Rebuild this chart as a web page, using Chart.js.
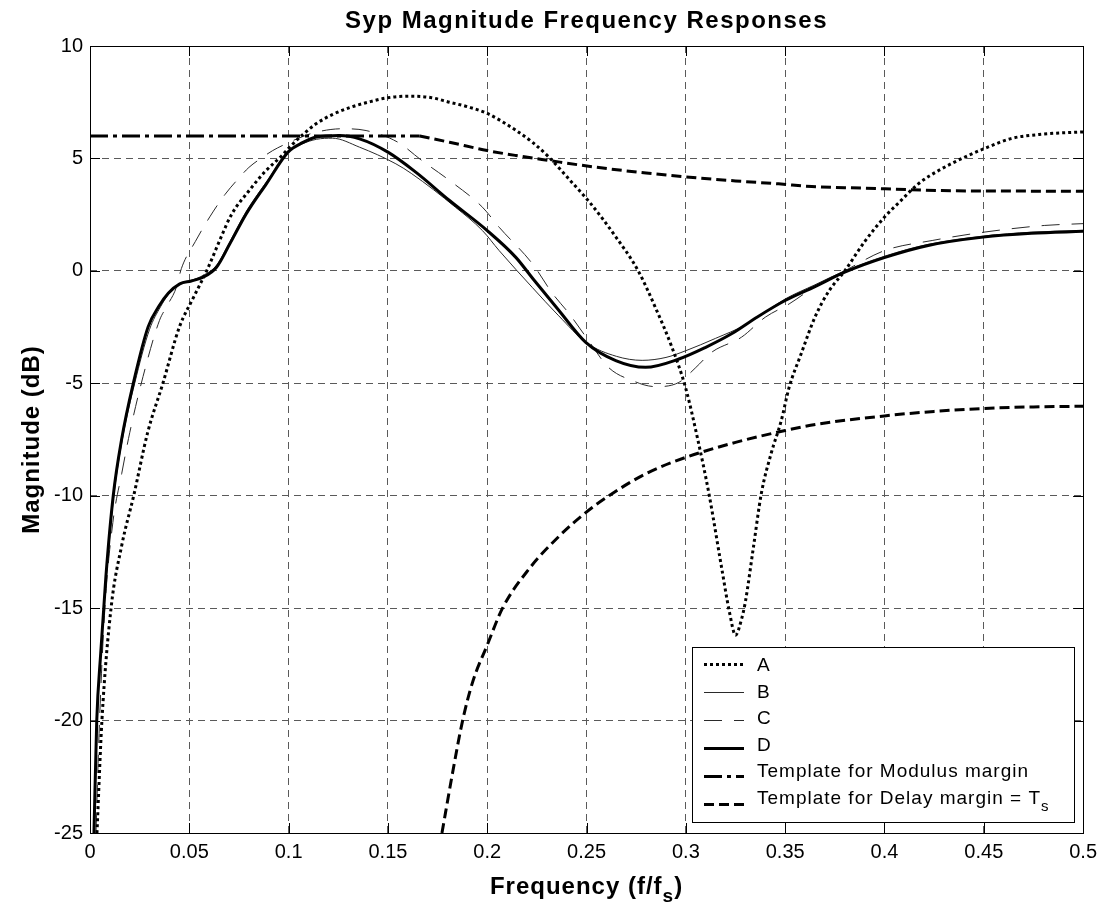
<!DOCTYPE html>
<html>
<head>
<meta charset="utf-8">
<title>Syp Magnitude Frequency Responses</title>
<script src="https://cdn.jsdelivr.net/npm/chart.js@4/dist/chart.umd.min.js"></script>
<style>
  html, body { margin: 0; padding: 0; background: #fff; }
  canvas { display: block; }
</style>
</head>
<body>
<canvas id="sypChart" width="1104" height="905"></canvas>
<script>
// normalised frequency (f/fs) and magnitude (dB) for each response
const freqA = [0.0035, 0.006, 0.0106, 0.016, 0.022, 0.029, 0.0367, 0.045, 0.052, 0.059, 0.066, 0.0712, 0.0804, 0.088, 0.0963, 0.1005, 0.107, 0.114, 0.122, 0.131, 0.14, 0.15, 0.162, 0.172, 0.181, 0.19, 0.2, 0.2146, 0.223, 0.231, 0.243, 0.252, 0.264, 0.276, 0.285, 0.293, 0.2998, 0.306, 0.3116, 0.318, 0.322, 0.325, 0.328, 0.33, 0.334, 0.338, 0.343, 0.348, 0.352, 0.358, 0.365, 0.372, 0.38, 0.39, 0.4, 0.408, 0.417, 0.428, 0.4405, 0.452, 0.464, 0.48, 0.4975, 0.5];
const magA = [-25, -20, -15, -12.2, -10, -7.2, -5, -2.5, -1.2, 0.05, 1.5, 2.5, 3.6, 4.4, 5.1, 5.5, 6.05, 6.55, 6.95, 7.27, 7.5, 7.7, 7.77, 7.7, 7.5, 7.3, 7.0, 6.24, 5.7, 5.06, 3.9, 3.0, 1.6, 0.0, -1.7, -3.4, -5.18, -7.5, -9.9, -13.2, -15.2, -16.2, -15.5, -14.7, -12.3, -9.9, -8.1, -6.67, -5.18, -3.7, -2.06, -0.9, 0.0, 1.3, 2.39, 3.1, 3.87, 4.5, 5.06, 5.5, 5.89, 6.08, 6.17, 6.18];

const freqB = [0.0022, 0.0036, 0.0058, 0.0085, 0.012, 0.0165, 0.0225, 0.03, 0.0355, 0.0395, 0.045, 0.051, 0.057, 0.0637, 0.0704, 0.0787, 0.0888, 0.0997, 0.107, 0.114, 0.122, 0.1357, 0.154, 0.162, 0.184, 0.1976, 0.206, 0.2226, 0.236, 0.25, 0.265, 0.278, 0.29, 0.3, 0.315, 0.33, 0.35, 0.365, 0.38, 0.4, 0.422, 0.45, 0.474, 0.5];
const magB = [-25, -20, -16.5, -13.3, -10, -7.4, -5, -2.6, -1.6, -1.05, -0.6, -0.42, -0.2, 0.25, 1.3, 2.65, 3.95, 5.3, 5.65, 5.85, 5.9, 5.5, 4.76, 4.32, 2.83, 1.79, 0.9, -0.73, -2.0, -3.2, -3.8, -3.98, -3.85, -3.55, -3.0, -2.4, -1.25, -0.62, 0.0, 0.65, 1.18, 1.55, 1.72, 1.8];

const freqC = [0.003, 0.0048, 0.0075, 0.0115, 0.016, 0.02, 0.0267, 0.035, 0.0385, 0.0435, 0.046, 0.053, 0.0603, 0.068, 0.0754, 0.08, 0.086, 0.092, 0.097, 0.105, 0.114, 0.127, 0.139, 0.155, 0.167, 0.181, 0.1976, 0.206, 0.2228, 0.2328, 0.2412, 0.251, 0.261, 0.273, 0.2848, 0.2965, 0.305, 0.313, 0.328, 0.34, 0.352, 0.365, 0.38, 0.4, 0.424, 0.45, 0.4807, 0.5];
const magC = [-25, -20, -15, -11.2, -9.0, -7.2, -4.7, -2.2, -1.6, -0.73, 0.1, 1.3, 2.4, 3.4, 4.17, 4.6, 5.0, 5.35, 5.58, 5.9, 6.17, 6.32, 6.24, 5.72, 4.91, 4.02, 2.83, 1.94, 0.31, -1.0, -1.9, -3.1, -4.29, -4.88, -5.15, -4.96, -4.3, -3.62, -2.95, -2.06, -1.47, -0.7, 0.0, 0.9, 1.35, 1.72, 2.02, 2.1];

const freqD = [0.002, 0.0034, 0.0054, 0.008, 0.0117, 0.0159, 0.0218, 0.0293, 0.0345, 0.0394, 0.0452, 0.051, 0.057, 0.0637, 0.0704, 0.0787, 0.0888, 0.0997, 0.107, 0.114, 0.1255, 0.1357, 0.15, 0.164, 0.181, 0.2, 0.2144, 0.223, 0.236, 0.2496, 0.2647, 0.2797, 0.2965, 0.31, 0.323, 0.336, 0.35, 0.365, 0.38, 0.4003, 0.422, 0.4497, 0.474, 0.5];
const magD = [-25, -20, -17, -13.6, -10, -7.5, -5, -2.48, -1.6, -1.0, -0.58, -0.45, -0.28, 0.16, 1.2, 2.54, 3.87, 5.28, 5.7, 5.95, 6.02, 5.87, 5.28, 4.39, 3.13, 1.79, 0.6, -0.35, -1.75, -3.18, -3.99, -4.29, -3.92, -3.4, -2.8, -2.05, -1.32, -0.7, -0.06, 0.6, 1.13, 1.5, 1.67, 1.76];

// templates
const freqModulus = [0, 0.166];
const magModulus = [6, 6];

const freqDelayHi = [0.166, 0.181, 0.2, 0.2144, 0.231, 0.2546, 0.28, 0.3, 0.325, 0.3467, 0.3634, 0.38, 0.4003, 0.4287, 0.46, 0.5];
const magDelayHi = [6.0, 5.72, 5.35, 5.13, 4.91, 4.61, 4.35, 4.18, 4.0, 3.87, 3.75, 3.7, 3.65, 3.57, 3.55, 3.54];

const freqDelayLo = [0.1772, 0.1826, 0.1876, 0.1926, 0.2002, 0.2077, 0.2211, 0.2362, 0.2496, 0.2613, 0.2797, 0.2998, 0.325, 0.35, 0.3668, 0.4, 0.425, 0.45, 0.475, 0.5];
const magDelayLo = [-25, -22.3, -20.0, -18.3, -16.6, -15.0, -13.25, -11.8, -10.75, -10.0, -9.03, -8.3, -7.63, -7.1, -6.81, -6.45, -6.25, -6.12, -6.05, -6.02];

const FONT = "'Liberation Sans', Arial, Helvetica, sans-serif";

function pts(fx, my) {
  const n = Math.min(fx.length, my.length);
  const out = [];
  for (let i = 0; i < n; i++) out.push({ x: fx[i], y: my[i] });
  return out;
}

function series(label, fx, my, style, order) {
  return Object.assign({
    label: label,
    data: pts(fx, my),
    borderColor: "#000",
    backgroundColor: "#000",
    pointRadius: 0,
    fill: false,
    cubicInterpolationMode: "monotone",
    borderCapStyle: "butt",
    order: order,
  }, style);
}

const styleA = { borderWidth: 3, borderDash: [3, 3] };
const styleB = { borderWidth: 1, borderColor: "#2a2a2a" };
const styleC = { borderWidth: 1, borderColor: "#2a2a2a", borderDash: [18, 12] };
const styleD = { borderWidth: 3 };
const styleMod = { borderWidth: 3, borderDash: [18, 5, 4, 5] };
const styleDelay = { borderWidth: 3, borderDash: [10, 5] };

// text with an optional one-letter subscript written as "_x"
function drawRich(ctx, text, x, y, opt) {
  const size = opt.size, weight = opt.weight || "normal";
  const spacing = (opt.spacing || 0) + "px";
  const parts = text.split("_");
  const main = parts[0];
  const sub = parts.length > 1 ? parts[1].charAt(0) : "";
  const rest = parts.length > 1 ? parts[1].slice(1) : "";
  const subSize = Math.round(size * 0.8);
  const big = weight + " " + size + "px " + FONT;
  const small = weight + " " + subSize + "px " + FONT;
  ctx.letterSpacing = spacing;
  ctx.font = big;
  const w1 = ctx.measureText(main).width;
  const w3 = ctx.measureText(rest).width;
  ctx.font = small;
  const w2 = ctx.measureText(sub).width;
  const total = w1 + w2 + w3;
  const x0 = opt.align === "center" ? x - total / 2 : x;
  ctx.textAlign = "left";
  ctx.textBaseline = "alphabetic";
  ctx.font = big;
  ctx.fillText(main, x0, y);
  if (sub) {
    ctx.font = small;
    ctx.fillText(sub, x0 + w1, y + size * (opt.subShift || 0.35));
    ctx.font = big;
    ctx.fillText(rest, x0 + w1 + w2, y);
  }
  ctx.letterSpacing = "0px";
}

// legend entries: dataset index, sample line y and text baseline y
const legendRows = [
  { ds: 0, lineY: 664, textY: 671 },
  { ds: 1, lineY: 692, textY: 697.5 },
  { ds: 2, lineY: 720, textY: 724 },
  { ds: 3, lineY: 748, textY: 750.5 },
  { ds: 4, lineY: 776, textY: 777 },
  { ds: 5, lineY: 804, textY: 803.5 },
];

const framePlugin = {
  id: "frame",
  afterDatasetsDraw(chart) {
    const ctx = chart.ctx;
    const a = chart.chartArea;
    const xs = chart.scales.x;
    const ys = chart.scales.y;
    ctx.save();
    ctx.strokeStyle = "#000";
    ctx.fillStyle = "#000";
    ctx.lineWidth = 1;
    ctx.setLineDash([]);

    // inward tick marks on all four sides
    ctx.beginPath();
    xs.ticks.forEach(function (t) {
      const px = Math.round(xs.getPixelForValue(t.value)) + 0.5;
      ctx.moveTo(px, a.bottom); ctx.lineTo(px, a.bottom - 10);
      ctx.moveTo(px, a.top); ctx.lineTo(px, a.top + 10);
    });
    ys.ticks.forEach(function (t) {
      const py = Math.round(ys.getPixelForValue(t.value)) + 0.5;
      ctx.moveTo(a.left, py); ctx.lineTo(a.left + 10, py);
      ctx.moveTo(a.right, py); ctx.lineTo(a.right - 10, py);
    });
    ctx.stroke();
    ctx.strokeRect(Math.round(a.left) + 0.5, Math.round(a.top) + 0.5,
      Math.round(a.right - a.left), Math.round(a.bottom - a.top));

    // legend box
    const lx = 692, ly = 647, lw = 382, lh = 175;
    ctx.fillStyle = "#fff";
    ctx.fillRect(lx, ly, lw, lh);
    ctx.strokeStyle = "#000";
    ctx.lineWidth = 1;
    ctx.strokeRect(lx + 0.5, ly + 0.5, lw, lh);
    legendRows.forEach(function (row) {
      const ds = chart.data.datasets[row.ds];
      ctx.save();
      ctx.strokeStyle = ds.borderColor;
      ctx.lineWidth = ds.borderWidth;
      ctx.lineCap = "butt";
      ctx.setLineDash(ds.borderDash || []);
      ctx.beginPath();
      ctx.moveTo(704, row.lineY + 0.5);
      ctx.lineTo(744, row.lineY + 0.5);
      ctx.stroke();
      ctx.restore();
      ctx.fillStyle = "#000";
      drawRich(ctx, ds.label, 757, row.textY, { size: 19, spacing: 1, subShift: 0.42 });
    });

    // titles
    ctx.fillStyle = "#000";
    const cx = (a.left + a.right) / 2;
    drawRich(ctx, "Syp Magnitude Frequency Responses", cx, 27.5, { size: 24, weight: "bold", spacing: 1.5, align: "center" });
    drawRich(ctx, "Frequency (f/f_s)", cx, 894, { size: 24, weight: "bold", spacing: 1, align: "center", subShift: 0.33 });
    ctx.save();
    ctx.translate(39, (a.top + a.bottom) / 2);
    ctx.rotate(-Math.PI / 2);
    drawRich(ctx, "Magnitude (dB)", 0, 0, { size: 24, weight: "bold", spacing: 1, align: "center" });
    ctx.restore();

    ctx.restore();
  },
};

const ctx = document.getElementById("sypChart").getContext("2d");

new Chart(ctx, {
  type: "line",
  data: {
    datasets: [
      series("A", freqA, magA, styleA, 4),
      series("B", freqB, magB, styleB, 6),
      series("C", freqC, magC, styleC, 5),
      series("D", freqD, magD, styleD, 3),
      series("Template for Modulus margin", freqModulus, magModulus, styleMod, 2),
      series("Template for Delay margin = T_s", freqDelayHi, magDelayHi, styleDelay, 1),
      series("Template for Delay margin = T_s", freqDelayLo, magDelayLo, styleDelay, 1),
    ],
  },
  options: {
    responsive: false,
    animation: false,
    devicePixelRatio: 1,
    layout: { padding: { top: 46, right: 19, left: 0, bottom: 0 } },
    plugins: {
      legend: { display: false },
      title: { display: false },
      tooltip: { enabled: false },
    },
    scales: {
      x: {
        type: "linear",
        min: 0,
        max: 0.5,
        afterFit: function (s) { s.height = 72; },
        grid: { color: "#5a5a5a", lineWidth: 1, drawTicks: false },
        border: { display: false, dash: [7, 5] },
        ticks: {
          stepSize: 0.05,
          autoSkip: false,
          maxRotation: 0,
          padding: 7,
          color: "#000",
          font: { family: FONT, size: 20 },
          callback: function (v) { return String(Number(v.toFixed(2))); },
        },
      },
      y: {
        type: "linear",
        min: -25,
        max: 10,
        afterFit: function (s) { s.width = 90; },
        grid: { color: "#5a5a5a", lineWidth: 1, drawTicks: false },
        border: { display: false, dash: [7, 5] },
        ticks: {
          stepSize: 5,
          padding: 7,
          color: "#000",
          font: { family: FONT, size: 20 },
        },
      },
    },
  },
  plugins: [framePlugin],
});
</script>
</body>
</html>
